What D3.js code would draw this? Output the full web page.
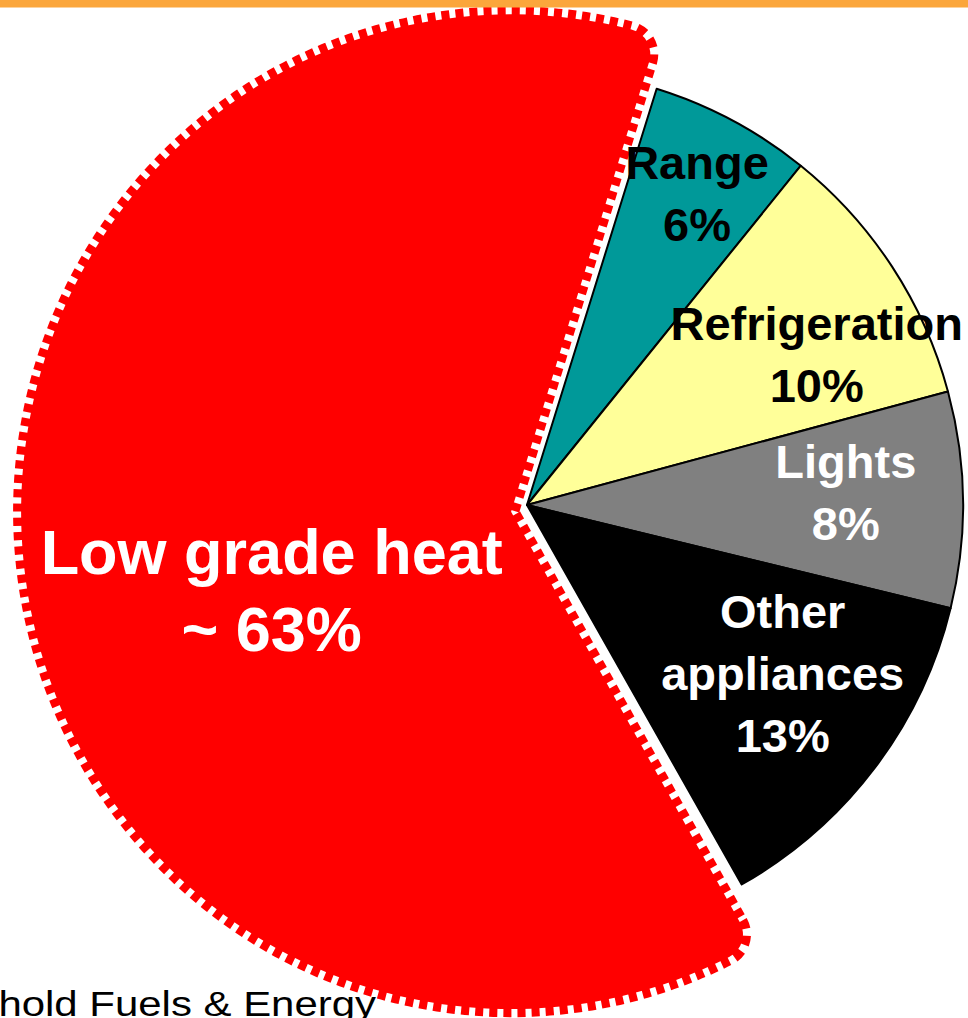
<!DOCTYPE html>
<html>
<head>
<meta charset="utf-8">
<script src="https://cdn.jsdelivr.net/npm/d3@7"></script>
<style>
  html, body { margin: 0; padding: 0; background: #fff; overflow: hidden; }
  svg { display: block; font-family: "Liberation Sans", Arial, sans-serif; }
</style>
</head>
<body>
<svg id="chart" width="968" height="1018"></svg>
<script>
// data
const categories = ["Range", "Refrigeration", "Lights", "Other appliances", "Low grade heat"];
const shares = [6, 10, 8, 13, 63];
const labelLines = [["Range", "6%"], ["Refrigeration", "10%"], ["Lights", "8%"], ["Other", "appliances", "13%"], ["Low grade heat", "~ 63%"]];
const sliceColors = ["#009999", "#FFFF99", "#808080", "#000000", "#FF0000"];
const labelColors = ["#000", "#000", "#fff", "#fff", "#fff"];
const footText = "Household Fuels & Energy";

// layout
const W = 968, H = 1018;
const cx = 527, cy = 505, R = 436;
const redR = 490, explode = 16;
const startDeg = 17.3;
// label spot: radius from centre, angle nudge in degrees (from slice middle)
const labelSpot = [[354, 0.6], [326, 5.8], [319, -1.3], [307, -3.5], [254, -13.4]];

const svg = d3.select("#chart");
const rad = d => d * Math.PI / 180;

const pie = d3.pie().sort(null).value(d => d)
    .startAngle(rad(startDeg)).endAngle(rad(startDeg) + 2 * Math.PI);
const arcs = pie(shares);

const arc = d3.arc().innerRadius(0).outerRadius(R);
const bigArc = d3.arc().innerRadius(0).outerRadius(redR).cornerRadius(25);

const g = svg.append("g").attr("transform", `translate(${cx},${cy})`);

function offsetOf(a, dist) {
    const m = (a.startAngle + a.endAngle) / 2;
    return [Math.sin(m) * dist, -Math.cos(m) * dist];
}

arcs.forEach((a, i) => {
    if (i === 4) {
        const [dx, dy] = offsetOf(a, explode);
        // the pulled-out slice sits a touch low and tall in the original
        const sg = g.append("g").attr("transform", `translate(${dx},${dy + 5}) scale(1,1.015)`);
        sg.append("path")
            .attr("d", bigArc(a))
            .attr("fill", sliceColors[i])
            .attr("stroke", sliceColors[i])
            .attr("stroke-width", 16)
            .attr("stroke-dasharray", "8,6")
            .attr("stroke-linejoin", "miter");
    } else {
        g.append("path")
            .attr("d", arc(a))
            .attr("fill", sliceColors[i])
            .attr("stroke", "#000")
            .attr("stroke-width", 2)
            .attr("stroke-linejoin", "round");
    }
});

// labels
arcs.forEach((a, i) => {
    const big = i === 4;
    const fs = big ? 63 : 47;
    const lh = big ? 77 : 62;
    const m = (a.startAngle + a.endAngle) / 2 + rad(labelSpot[i][1]);
    let [x, y] = [Math.sin(m) * labelSpot[i][0], -Math.cos(m) * labelSpot[i][0]];
    if (big) {
        const [dx, dy] = offsetOf(a, explode);
        x += dx; y += dy;
    }
    const lines = labelLines[i];
    const y0 = y - (lines.length - 1) * lh / 2 + fs * 0.33;
    const t = g.append("text")
        .attr("text-anchor", "middle")
        .attr("font-weight", "bold")
        .attr("font-size", fs)
        .attr("fill", labelColors[i]);
    lines.forEach((s, k) => {
        t.append("tspan").attr("x", x).attr("y", y0 + k * lh).text(s);
    });
});

// footer text, cut off at the left edge
svg.append("text")
    .attr("transform", "translate(376,1016) scale(1.165,1)")
    .attr("text-anchor", "end")
    .attr("font-size", 36)
    .attr("fill", "#000")
    .text(footText);

// orange band on top
svg.append("rect")
    .attr("x", 0).attr("y", 0)
    .attr("width", W).attr("height", 7.5)
    .attr("fill", "#FBA63C");
</script>
</body>
</html>
